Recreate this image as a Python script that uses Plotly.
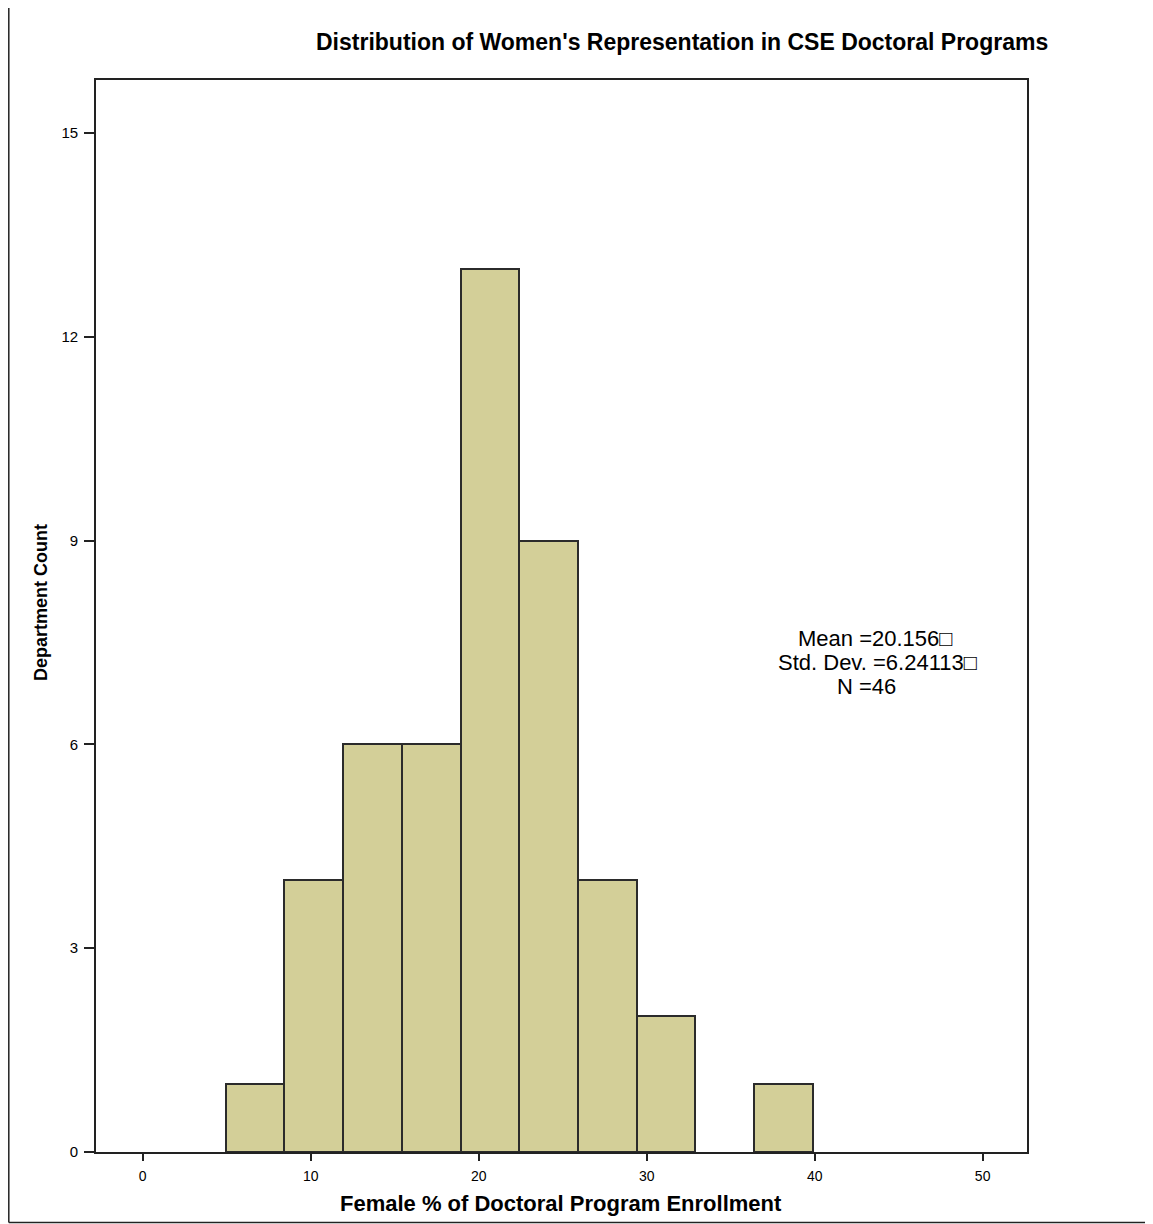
import plotly.graph_objects as go

# Data
bin_start = 4.93
bin_width = 3.497
counts = [1, 4, 6, 6, 13, 9, 4, 2, 0, 1]
x_ticks = [0, 10, 20, 30, 40, 50]
y_ticks = [0, 3, 6, 9, 12, 15]
stats_lines = ["Mean =20.156\u25a1", "Std. Dev. =6.24113\u25a1", "N =46"]

title = "Distribution of Women's Representation in CSE Doctoral Programs"
x_title = "Female % of Doctoral Program Enrollment"
y_title = "Department Count"

centers = [bin_start + bin_width * (i + 0.5) for i in range(len(counts))]

# The page puts the figure at an 8px offset; work in screen coordinates
OFF = 8
W, H = 1153 - OFF, 1224 - OFF
PL, PR, PT, PB = 96, 1027, 80, 1152  # plot area in screen coords
L, R, T, B = PL - OFF, W - (PR - OFF), PT - OFF, H - (PB - OFF)


def px(xs):
    return (xs - PL) / (PR - PL)


def py(ys):
    return (PB - ys) / (PB - PT)


fig = go.Figure()
fig.add_trace(go.Bar(
    x=centers, y=counts, width=[bin_width] * len(counts),
    marker=dict(color="#D3CF98",
                line=dict(color="#2b2b2b", width=[2 if c > 0 else 0 for c in counts])),
    hoverinfo="skip",
))

fig.update_layout(
    width=W, height=H,
    margin=dict(l=L, r=R, t=T, b=B),
    paper_bgcolor="white",
    plot_bgcolor="white",
    showlegend=False,
    bargap=0,
    font=dict(family="Liberation Sans, Arial, sans-serif", color="black"),
)

fig.update_xaxes(
    range=[-2.78, 52.64],
    tickvals=x_ticks, ticktext=[str(v) for v in x_ticks],
    ticks="outside", ticklen=7, tickwidth=1.5, tickcolor="#222222",
    ticklabelstandoff=3,
    showline=True, linecolor="#222222", linewidth=1.8, mirror=True,
    showgrid=False, zeroline=False,
    tickfont=dict(size=14, family="Liberation Sans, Arial, sans-serif"),
)
fig.update_yaxes(
    range=[0, 15.78],
    tickvals=y_ticks, ticktext=[str(v) for v in y_ticks],
    ticks="outside", ticklen=10, tickwidth=1.5, tickcolor="#222222",
    ticklabelstandoff=3,
    showline=True, linecolor="#222222", linewidth=1.8, mirror=True,
    showgrid=False, zeroline=False,
    tickfont=dict(size=15, family="Liberation Sans, Arial, sans-serif"),
)

# Title
fig.add_annotation(
    text="<b>" + title + "</b>", xref="paper", yref="paper",
    x=px(682), y=py(42),
    showarrow=False, xanchor="center", yanchor="middle",
    font=dict(size=23, family="Liberation Sans, Arial, sans-serif"),
)
# X axis title
fig.add_annotation(
    text="<b>" + x_title + "</b>", xref="paper", yref="paper",
    x=px(561), y=py(1203),
    showarrow=False, xanchor="center", yanchor="middle",
    font=dict(size=22, family="Liberation Sans, Arial, sans-serif"),
)
# Y axis title
fig.add_annotation(
    text="<b>" + y_title + "</b>", xref="paper", yref="paper",
    x=px(41), y=py(603),
    showarrow=False, xanchor="center", yanchor="middle", textangle=-90,
    font=dict(size=18, family="Liberation Sans, Arial, sans-serif"),
)
# Stats box, one line at a time
stat_pos = [(875, 639), (877, 662), (866, 686)]
for line, (sx, sy) in zip(stats_lines, stat_pos):
    fig.add_annotation(
        text=line, xref="paper", yref="paper",
        x=px(sx), y=py(sy),
        showarrow=False, xanchor="center", yanchor="middle",
        font=dict(size=22, family="Liberation Sans, Arial, sans-serif"),
    )

# Outer frame (left and bottom borders of the image)
fx = px(OFF + 0.8)
fy_bot = py(1222.5)
fig.add_shape(type="line", xref="paper", yref="paper",
              x0=fx, x1=fx, y0=fy_bot, y1=py(OFF - 1),
              line=dict(color="#222222", width=1.5))
fig.add_shape(type="line", xref="paper", yref="paper",
              x0=fx, x1=px(1160), y0=fy_bot, y1=fy_bot,
              line=dict(color="#222222", width=1.5))

fig.write_html("out.html")
